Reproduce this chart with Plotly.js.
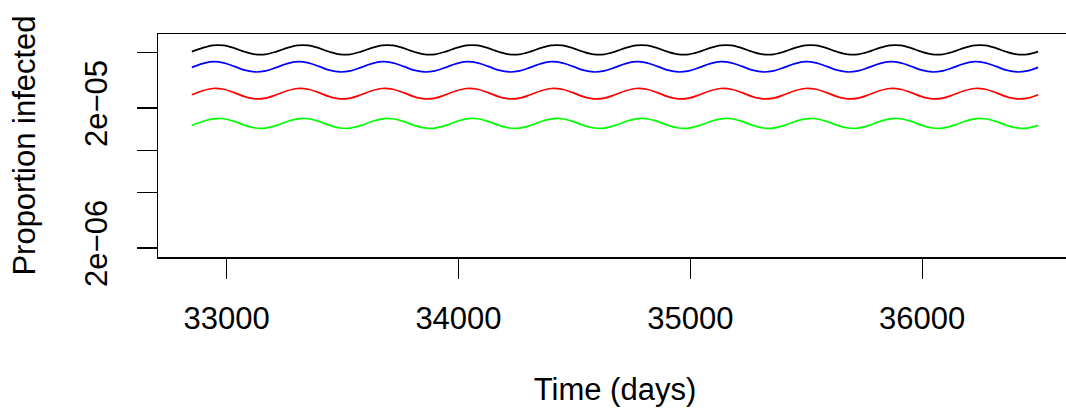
<!DOCTYPE html>
<html>
<head>
<meta charset="utf-8">
<script src="https://cdn.plot.ly/plotly-3.0.1.min.js"></script>
<style>
html, body { margin:0; padding:0; background:#fff; overflow:hidden; width:1066px; height:413px; }
#chart { width:1080px; height:413px; }
</style>
</head>
<body>
<div id="chart"></div>
<script>
// Time (days)
const time = [
  32850, 32896, 32941, 32987, 33033, 33078, 33124, 33169,
  33215, 33261, 33306, 33352, 33398, 33443, 33489, 33534,
  33580, 33626, 33671, 33717, 33763, 33808, 33854, 33899,
  33945, 33991, 34036, 34082, 34128, 34173, 34219, 34264,
  34310, 34356, 34401, 34447, 34493, 34538, 34584, 34629,
  34675, 34721, 34766, 34812, 34858, 34903, 34949, 34994,
  35040, 35086, 35131, 35177, 35223, 35268, 35314, 35359,
  35405, 35451, 35496, 35542, 35588, 35633, 35679, 35724,
  35770, 35816, 35861, 35907, 35953, 35998, 36044, 36089,
  36135, 36181, 36226, 36272, 36318, 36363, 36409, 36454,
  36500
];

// Proportion infected, black series
const seriesBlack = [
  5.066e-5, 5.389e-5, 5.617e-5, 5.612e-5, 5.367e-5, 5.053e-5, 4.841e-5, 4.847e-5,
  5.066e-5, 5.389e-5, 5.617e-5, 5.612e-5, 5.367e-5, 5.053e-5, 4.841e-5, 4.847e-5,
  5.066e-5, 5.389e-5, 5.617e-5, 5.612e-5, 5.367e-5, 5.053e-5, 4.841e-5, 4.847e-5,
  5.066e-5, 5.389e-5, 5.617e-5, 5.612e-5, 5.367e-5, 5.053e-5, 4.841e-5, 4.847e-5,
  5.066e-5, 5.389e-5, 5.617e-5, 5.612e-5, 5.367e-5, 5.053e-5, 4.841e-5, 4.847e-5,
  5.066e-5, 5.389e-5, 5.617e-5, 5.612e-5, 5.367e-5, 5.053e-5, 4.841e-5, 4.847e-5,
  5.066e-5, 5.389e-5, 5.617e-5, 5.612e-5, 5.367e-5, 5.053e-5, 4.841e-5, 4.847e-5,
  5.066e-5, 5.389e-5, 5.617e-5, 5.612e-5, 5.367e-5, 5.053e-5, 4.841e-5, 4.847e-5,
  5.066e-5, 5.389e-5, 5.617e-5, 5.612e-5, 5.367e-5, 5.053e-5, 4.841e-5, 4.847e-5,
  5.066e-5, 5.389e-5, 5.617e-5, 5.612e-5, 5.367e-5, 5.053e-5, 4.841e-5, 4.847e-5,
  5.066e-5
];

// blue series
const seriesBlue = [
  3.910e-5, 4.162e-5, 4.290e-5, 4.210e-5, 3.973e-5, 3.737e-5, 3.624e-5, 3.692e-5,
  3.910e-5, 4.162e-5, 4.290e-5, 4.210e-5, 3.973e-5, 3.737e-5, 3.624e-5, 3.692e-5,
  3.910e-5, 4.162e-5, 4.290e-5, 4.210e-5, 3.973e-5, 3.737e-5, 3.624e-5, 3.692e-5,
  3.910e-5, 4.162e-5, 4.290e-5, 4.210e-5, 3.973e-5, 3.737e-5, 3.624e-5, 3.692e-5,
  3.910e-5, 4.162e-5, 4.290e-5, 4.210e-5, 3.973e-5, 3.737e-5, 3.624e-5, 3.692e-5,
  3.910e-5, 4.162e-5, 4.290e-5, 4.210e-5, 3.973e-5, 3.737e-5, 3.624e-5, 3.692e-5,
  3.910e-5, 4.162e-5, 4.290e-5, 4.210e-5, 3.973e-5, 3.737e-5, 3.624e-5, 3.692e-5,
  3.910e-5, 4.162e-5, 4.290e-5, 4.210e-5, 3.973e-5, 3.737e-5, 3.624e-5, 3.692e-5,
  3.910e-5, 4.162e-5, 4.290e-5, 4.210e-5, 3.973e-5, 3.737e-5, 3.624e-5, 3.692e-5,
  3.910e-5, 4.162e-5, 4.290e-5, 4.210e-5, 3.973e-5, 3.737e-5, 3.624e-5, 3.692e-5,
  3.910e-5
];

// red series
const seriesRed = [
  2.491e-5, 2.661e-5, 2.761e-5, 2.726e-5, 2.578e-5, 2.416e-5, 2.327e-5, 2.356e-5,
  2.491e-5, 2.661e-5, 2.761e-5, 2.726e-5, 2.578e-5, 2.416e-5, 2.327e-5, 2.356e-5,
  2.491e-5, 2.661e-5, 2.761e-5, 2.726e-5, 2.578e-5, 2.416e-5, 2.327e-5, 2.356e-5,
  2.491e-5, 2.661e-5, 2.761e-5, 2.726e-5, 2.578e-5, 2.416e-5, 2.327e-5, 2.356e-5,
  2.491e-5, 2.661e-5, 2.761e-5, 2.726e-5, 2.578e-5, 2.416e-5, 2.327e-5, 2.356e-5,
  2.491e-5, 2.661e-5, 2.761e-5, 2.726e-5, 2.578e-5, 2.416e-5, 2.327e-5, 2.356e-5,
  2.491e-5, 2.661e-5, 2.761e-5, 2.726e-5, 2.578e-5, 2.416e-5, 2.327e-5, 2.356e-5,
  2.491e-5, 2.661e-5, 2.761e-5, 2.726e-5, 2.578e-5, 2.416e-5, 2.327e-5, 2.356e-5,
  2.491e-5, 2.661e-5, 2.761e-5, 2.726e-5, 2.578e-5, 2.416e-5, 2.327e-5, 2.356e-5,
  2.491e-5, 2.661e-5, 2.761e-5, 2.726e-5, 2.578e-5, 2.416e-5, 2.327e-5, 2.356e-5,
  2.491e-5
];

// green series
const seriesGreen = [
  1.504e-5, 1.603e-5, 1.677e-5, 1.678e-5, 1.606e-5, 1.509e-5, 1.441e-5, 1.440e-5,
  1.504e-5, 1.603e-5, 1.677e-5, 1.678e-5, 1.606e-5, 1.509e-5, 1.441e-5, 1.440e-5,
  1.504e-5, 1.603e-5, 1.677e-5, 1.678e-5, 1.606e-5, 1.509e-5, 1.441e-5, 1.440e-5,
  1.504e-5, 1.603e-5, 1.677e-5, 1.678e-5, 1.606e-5, 1.509e-5, 1.441e-5, 1.440e-5,
  1.504e-5, 1.603e-5, 1.677e-5, 1.678e-5, 1.606e-5, 1.509e-5, 1.441e-5, 1.440e-5,
  1.504e-5, 1.603e-5, 1.677e-5, 1.678e-5, 1.606e-5, 1.509e-5, 1.441e-5, 1.440e-5,
  1.504e-5, 1.603e-5, 1.677e-5, 1.678e-5, 1.606e-5, 1.509e-5, 1.441e-5, 1.440e-5,
  1.504e-5, 1.603e-5, 1.677e-5, 1.678e-5, 1.606e-5, 1.509e-5, 1.441e-5, 1.440e-5,
  1.504e-5, 1.603e-5, 1.677e-5, 1.678e-5, 1.606e-5, 1.509e-5, 1.441e-5, 1.440e-5,
  1.504e-5, 1.603e-5, 1.677e-5, 1.678e-5, 1.606e-5, 1.509e-5, 1.441e-5, 1.440e-5,
  1.504e-5
];

const xTickVals = [33000, 34000, 35000, 36000];
const xTickText = ["33000", "34000", "35000", "36000"];
const yTickVals = [5e-5, 2e-5, 1e-5, 5e-6, 2e-6];
const yTickText = ["", "2e\u221205", "", "", "2e\u221206"];

const seriesList = [
  {y: seriesBlack, color: "#000000"},
  {y: seriesBlue, color: "#0000FF"},
  {y: seriesRed, color: "#FF0000"},
  {y: seriesGreen, color: "#00FF00"}
];

const traces = seriesList.map(s => ({
  x: time, y: s.y, type: "scatter", mode: "lines",
  line: {color: s.color, width: 1.7, shape: "spline", smoothing: 1},
  hoverinfo: "skip", showlegend: false
}));

const fontFam = "Liberation Sans, Arial, Helvetica, sans-serif";

const layout = {
  width: 1080, height: 413,
  margin: {l: 158, r: 8, t: 34, b: 156, pad: 0},
  paper_bgcolor: "#ffffff", plot_bgcolor: "#ffffff",
  font: {family: fontFam, color: "#000000", size: 31},
  showlegend: false,
  xaxis: {
    type: "linear", range: [32704, 36646], autorange: false,
    tickvals: xTickVals, ticktext: xTickText,
    ticks: "outside", ticklen: 20, tickwidth: 1.4, tickcolor: "#000",
    showline: true, mirror: true, linecolor: "#000", linewidth: 1.5,
    showgrid: false, zeroline: false,
    tickfont: {family: fontFam, size: 31, color: "#000"},
    ticklabelstandoff: 13,
    title: {text: "Time (days)", font: {family: fontFam, size: 31, color: "#000"}, standoff: 43}
  },
  yaxis: {
    type: "log", range: [-5.763, -4.1695], autorange: false,
    tickvals: yTickVals, ticktext: yTickText,
    tickangle: -90,
    ticks: "outside", ticklen: 20, tickwidth: 1.4, tickcolor: "#000",
    showline: true, mirror: true, linecolor: "#000", linewidth: 1.5,
    showgrid: false, zeroline: false,
    tickfont: {family: fontFam, size: 31, color: "#000"},
    ticklabelstandoff: 17,
    title: {text: "Proportion infected", font: {family: fontFam, size: 31, color: "#000"}, standoff: 34}
  }
};

Plotly.newPlot("chart", traces, layout, {staticPlot: true, displayModeBar: false});
</script>
</body>
</html>
